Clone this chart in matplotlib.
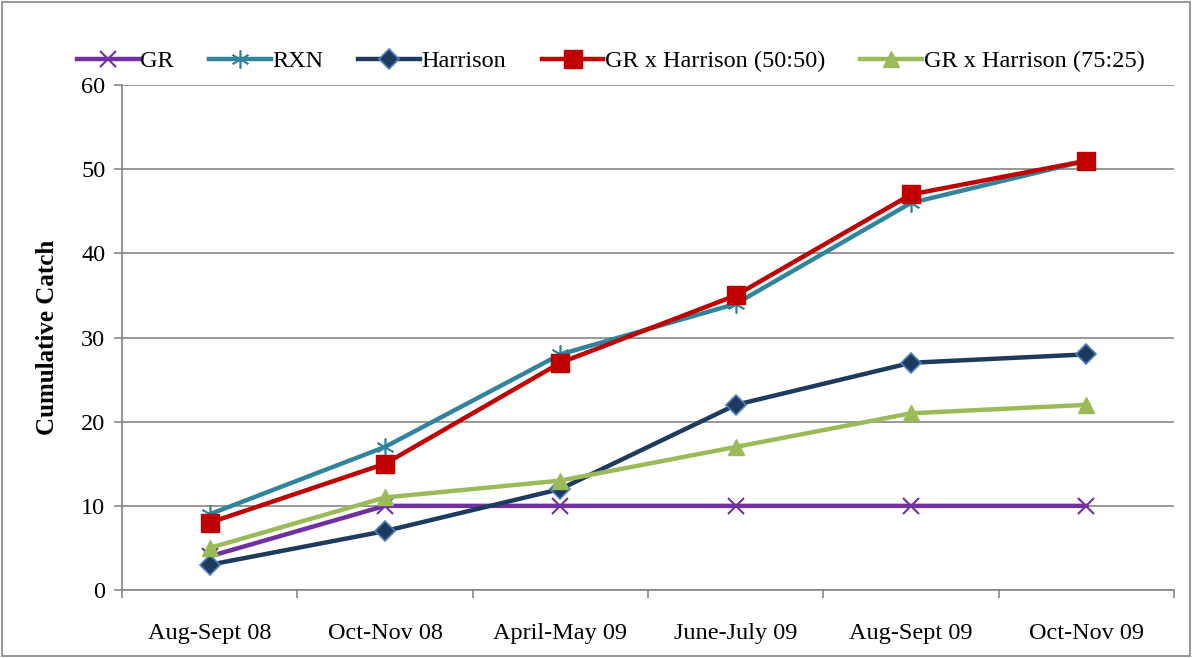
import matplotlib
matplotlib.use("Agg")
import matplotlib.pyplot as plt
from matplotlib.patches import Rectangle

plt.rcParams['font.family'] = ['Liberation Serif', 'DejaVu Serif']

categories = ["Aug-Sept 08", "Oct-Nov 08", "April-May 09", "June-July 09", "Aug-Sept 09", "Oct-Nov 09"]
gr = [4, 10, 10, 10, 10, 10]
rxn = [9, 17, 28, 34, 46, 51]
harrison = [3, 7, 12, 22, 27, 28]
grh5050 = [8, 15, 27, 35, 47, 51]
grh7525 = [5, 11, 13, 17, 21, 22]
yticks = [0, 10, 20, 30, 40, 50, 60]

fig = plt.figure(figsize=(11.92, 6.58), dpi=100)
ax = fig.add_axes([0.1023, 0.1033, 0.8827, 0.7675])

x = list(range(len(categories)))
lw = 3.2
ax.plot(x, gr, color='#7030A0', lw=lw, marker='x', ms=11, mew=1.5, label='GR')
ax.plot(x, rxn, color='#31849B', lw=lw, marker=(6, 2, 0), ms=13, mew=1.2, label='RXN')
ax.plot(x, harrison, color='#1F3A5F', lw=lw, marker='D', ms=10, mfc='#1F3A5F', mec='#4F81BD', mew=1.2, label='Harrison')
ax.plot(x, grh5050, color='#C00000', lw=lw, marker='s', ms=13, mfc='#C00000', mec='#C00000', label='GR x Harrison (50:50)')
ax.plot(x, grh7525, color='#9BBB59', lw=lw, marker='^', ms=12, mfc='#9BBB59', mec='#9BBB59', label='GR x Harrison (75:25)')

ax.set_xlim(-0.5, len(categories) - 0.5)
ax.set_ylim(0, 60)
ax.set_yticks(yticks)
ax.set_yticklabels([str(v) for v in yticks], fontsize=17.5)
ax.set_xticks(x)
ax.set_xticklabels(categories, fontsize=17.5)
ax.tick_params(axis='x', length=0, pad=24)
ax.set_xticks([i - 0.5 for i in range(len(categories) + 1)], minor=True)
ax.tick_params(axis='x', which='minor', length=6, color='#868686', width=1.2)
ax.tick_params(axis='y', length=6, color='#868686', width=1.2, pad=6)
ax.grid(axis='y', color='#868686', lw=1.2)
ax.set_axisbelow(True)
for s in ['top', 'right']:
    ax.spines[s].set_visible(False)
for s in ['left', 'bottom']:
    ax.spines[s].set_color('#868686')
    ax.spines[s].set_linewidth(1.2)
ax.set_ylabel('Cumulative Catch', fontsize=18, fontweight='bold', labelpad=16)

leg = fig.legend(loc='upper left', bbox_to_anchor=(0.046, 0.957), ncol=5, frameon=False,
                 fontsize=17.5, handlelength=2.55, handletextpad=0.05, columnspacing=1.45)

fig.patches.append(Rectangle((0.002, 0.003), 0.996, 0.994, transform=fig.transFigure,
                             fill=False, edgecolor='#868686', lw=1.2))

fig.savefig('out.png', dpi=100)
